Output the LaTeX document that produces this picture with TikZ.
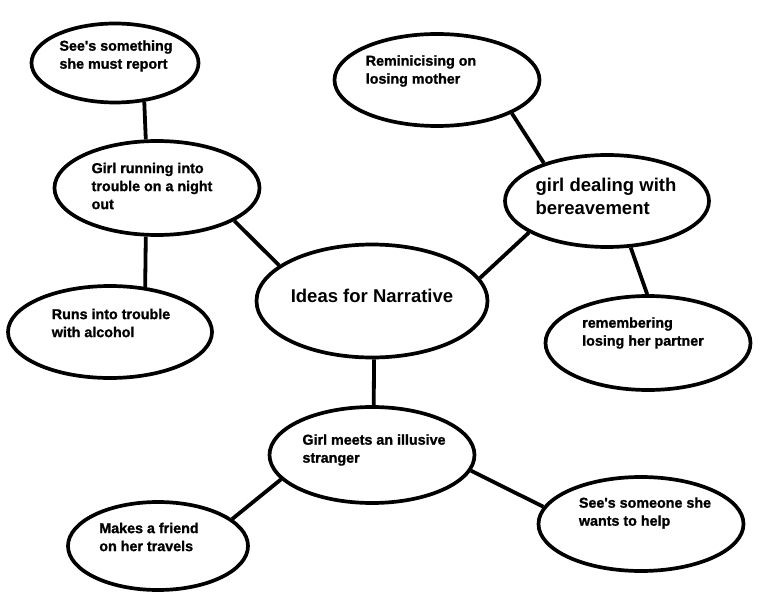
\documentclass[tikz,border=0pt]{standalone}
\usepackage{fontspec}
\setmainfont{Liberation Sans}[Ligatures=TeXOff]
\newfontfamily\heavy{Liberation Sans}[Ligatures=TeXOff, BoldFeatures={FakeBold=1.2}]
\usetikzlibrary{shapes.geometric}
\tikzset{
  bubble/.style={draw, ellipse, line width=3.7pt, inner sep=0pt},
  txt/.style={font=\heavy\fontsize{14.3}{18}\selectfont\bfseries, align=left},
  bigtxt/.style={font=\fontsize{18.5}{23}\selectfont\bfseries, align=left}
}
\begin{document}
\begin{tikzpicture}[x=1pt,y=-1pt]
      \useasboundingbox (0,0) rectangle (778,612);
      \node[bubble, minimum width=167pt, minimum height=79pt] (report) at (115,63) {};
      \node[bubble, minimum width=205pt, minimum height=94pt] (running) at (157,188) {};
      \node[bubble, minimum width=204pt, minimum height=92pt] (alcohol) at (110,332) {};
      \node[bubble, minimum width=231pt, minimum height=113pt] (ideas) at (372,301) {};
      \node[bubble, minimum width=205pt, minimum height=92pt] (mother) at (437,80) {};
      \node[bubble, minimum width=204pt, minimum height=92pt] (bereave) at (607,201) {};
      \node[bubble, minimum width=205pt, minimum height=94pt] (partner) at (648,343) {};
      \node[bubble, minimum width=205pt, minimum height=96pt] (stranger) at (372,455) {};
      \node[bubble, minimum width=180pt, minimum height=88pt] (friend) at (158,546) {};
      \node[bubble, minimum width=205pt, minimum height=94pt] (help) at (641,524) {};
      \node[txt] (report-t) at (116,56) {See's something\\she must report};
      \node[txt] (running-t) at (152,186) {Girl running into\\trouble on a night\\out};
      \node[txt] (alcohol-t) at (111,323) {Runs into trouble\\with alcohol};
      \node[bigtxt] (ideas-t) at (372,296) {Ideas for Narrative};
      \node[txt] (mother-t) at (421,71) {Reminicising on\\losing mother};
      \node[bigtxt] (bereave-t) at (606,196) {girl dealing with\\bereavement};
      \node[txt] (partner-t) at (643,333) {remembering\\losing her partner};
      \node[txt] (stranger-t) at (374,450) {Girl meets an illusive\\stranger};
      \node[txt] (friend-t) at (149,537) {Makes a friend\\on her travels};
      \node[txt] (help-t) at (645,513) {See's someone she\\wants to help};
      \begin{scope}[line width=3.8pt]
        \draw (report.-53) to (running.103);
        \draw (running.257) to (alcohol.52);
        \draw (running.-23) to (ideas.159);
        \draw (ideas.-88) to (stranger.88);
        \draw (bereave.202) to (ideas.12);
        \draw (mother.-24) to (bereave.149);
        \draw (bereave.-63) to (partner.91);
        \draw (stranger.195) to (friend.20);
        \draw (stranger.-9) to (help.170);
      \end{scope}
    \end{tikzpicture}
\end{document}
